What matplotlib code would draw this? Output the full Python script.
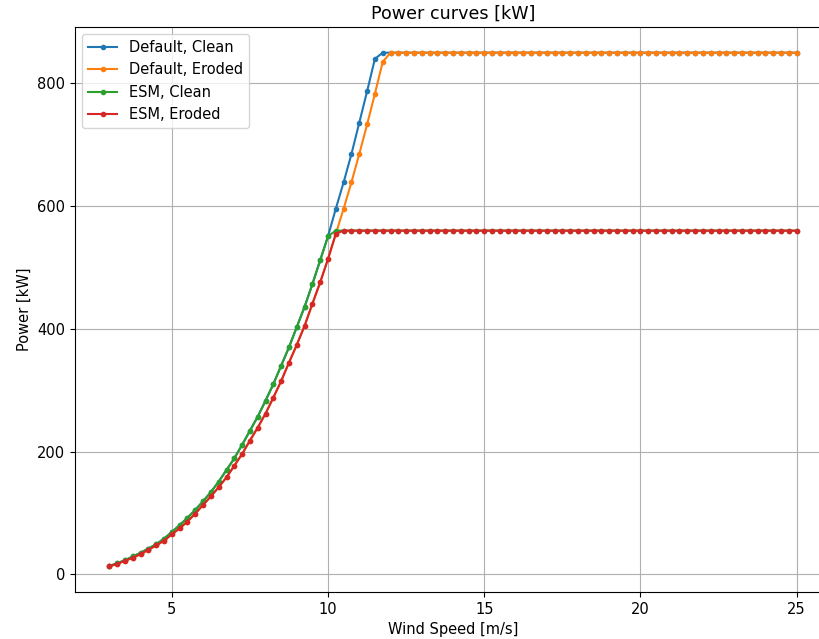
import numpy as np
import matplotlib
matplotlib.use("Agg")
import matplotlib.pyplot as plt

# wind speed grid, 3 to 25 m/s in 0.25 steps
wind_speed = np.arange(3.0, 25.01, 0.25)

# below-rated part shared by the clean curves (3 .. 10 m/s)
clean_low = [13.5, 18, 23, 29, 35, 42, 49, 58, 69, 80, 92, 105, 119, 134, 151,
             170, 189, 211, 234, 257, 283, 310, 340, 370, 403, 436, 473, 512, 551]
# below-rated part shared by the eroded curves (3 .. 10.25 m/s)
eroded_low = [13, 17, 22, 27, 33, 40, 47, 55, 65, 75, 86, 99, 113, 127, 142,
              158, 177, 196, 218, 239, 262, 288, 315, 345, 374, 405, 441, 476, 514, 555]

# ramp up to rated power for the default controller
default_clean_ramp = [596, 639, 685, 736, 787, 840]     # 10.25 .. 11.5
default_eroded_ramp = [596, 639, 685, 733, 783, 835]    # 10.5 .. 11.75

rated_default = 850.0
rated_esm = 560.0


def fill_rated(values, rated):
    n = len(wind_speed) - len(values)
    return np.array(list(values) + [rated] * n)


default_clean = fill_rated(clean_low + default_clean_ramp, rated_default)
default_eroded = fill_rated(eroded_low + default_eroded_ramp, rated_default)
esm_clean = fill_rated(clean_low, rated_esm)
esm_eroded = fill_rated(eroded_low, rated_esm)

fig = plt.figure(figsize=(8.19, 6.39), dpi=100)
ax = fig.add_axes([75 / 819, 1 - 592 / 639, (831 - 75) / 819, (592 - 27) / 639])

ax.plot(wind_speed, default_clean, marker='.', label='Default, Clean')
ax.plot(wind_speed, default_eroded, marker='.', label='Default, Eroded')
ax.plot(wind_speed, esm_clean, marker='.', label='ESM, Clean')
ax.plot(wind_speed, esm_eroded, marker='.', label='ESM, Eroded')

ax.set_title("Power curves [kW]", fontsize=12.6)
ax.set_xlabel("Wind Speed [m/s]", fontsize=10.5)
ax.set_ylabel("Power [kW]", fontsize=10.5)
ax.tick_params(labelsize=10.5)
ax.set_yticks([0, 200, 400, 600, 800])
ax.grid(True)
ax.legend(loc='upper left', fontsize=10.5)

fig.savefig("out.png", dpi=100)
